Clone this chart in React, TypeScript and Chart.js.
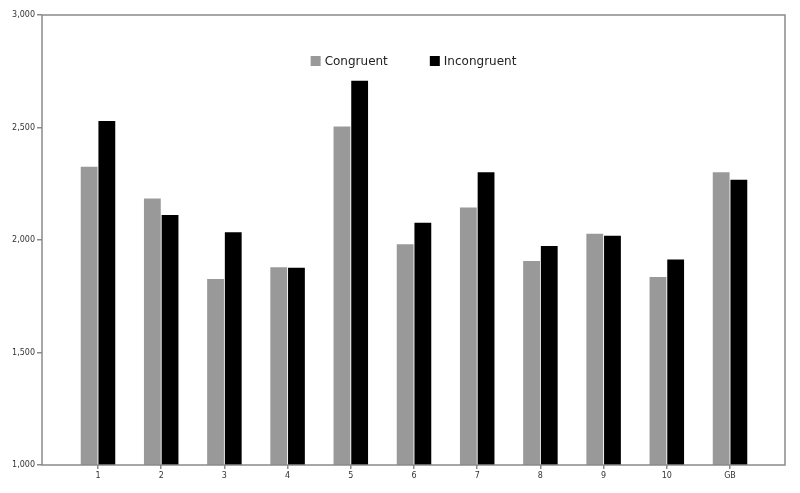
import React, { useEffect, useRef } from "react";
import { Chart, registerables } from "chart.js";

Chart.register(...registerables);

const categories = ["1", "2", "3", "4", "5", "6", "7", "8", "9", "10", "GB"];
const congruent = [2326, 2185, 1827, 1879, 2504, 1981, 2145, 1907, 2028, 1836, 2301];
const incongruent = [2529, 2111, 2034, 1877, 2708, 2077, 2301, 1973, 2019, 1913, 2268];
const yTicks = [1000, 1500, 2000, 2500, 3000];

const GREY = "#999999";
const BLACK = "#000000";
const AXIS = "#8a8a8a";

const boxAndLegend = {
  id: "boxAndLegend",
  afterDraw(chart: any) {
    const { ctx, chartArea } = chart;
    ctx.save();
    ctx.strokeStyle = AXIS;
    ctx.lineWidth = 1.5;
    ctx.strokeRect(chartArea.left, chartArea.top, chartArea.right - chartArea.left, chartArea.bottom - chartArea.top);

    ctx.font = "12px 'DejaVu Sans', sans-serif";
    ctx.textBaseline = "middle";
    const items = chart.data.datasets.map((d: any) => ({ label: d.label, color: d.backgroundColor }));
    const box = 10;
    const gapBoxText = 4;
    const gapItems = 42;
    const widths = items.map((it: any) => box + gapBoxText + ctx.measureText(it.label).width);
    const total = widths.reduce((a: number, b: number) => a + b, 0) + gapItems * (items.length - 1);
    let x = (chartArea.left + chartArea.right) / 2 - total / 2;
    const y = 61;
    items.forEach((it: any, i: number) => {
      ctx.fillStyle = it.color;
      ctx.fillRect(x, y - box / 2, box, box);
      ctx.fillStyle = "#222";
      ctx.textAlign = "left";
      ctx.fillText(it.label, x + box + gapBoxText, y + 0.5);
      x += widths[i] + gapItems;
    });
    ctx.restore();
  },
};

export default function App() {
  const ref = useRef<HTMLCanvasElement>(null);
  useEffect(() => {
    document.body.style.margin = "0";
    const chart = new Chart(ref.current!, {
      type: "bar",
      data: {
        datasets: [
          {
            label: "Congruent",
            data: congruent.map((v, i) => ({ x: i + 1, y: v })),
            backgroundColor: GREY,
            borderWidth: 0,
          },
          {
            label: "Incongruent",
            data: incongruent.map((v, i) => ({ x: i + 1, y: v })),
            backgroundColor: BLACK,
            borderWidth: 0,
          },
        ],
      },
      options: {
        animation: false,
        responsive: false,
        maintainAspectRatio: false,
        layout: { padding: { left: 0, top: 15, right: 15, bottom: 0 } },
        datasets: { bar: { categoryPercentage: 0.56, barPercentage: 0.95 } },
        plugins: { legend: { display: false }, tooltip: { enabled: false } },
        scales: {
          x: {
            type: "linear",
            offset: false,
            min: 0.114,
            max: 11.87,
            afterBuildTicks: (s: any) => {
              s.ticks = categories.map((_, i) => ({ value: i + 1 }));
            },
            afterFit: (s: any) => {
              s.height = 28;
            },
            ticks: {
              autoSkip: false,
              maxRotation: 0,
              padding: 2,
              color: "#333",
              font: { family: "'DejaVu Sans', sans-serif", size: 8 },
              callback: (v: any) => categories[Math.round(v) - 1] ?? "",
            },
            grid: { offset: false, drawOnChartArea: false, tickLength: 4, color: AXIS, lineWidth: 1.5 },
            border: { display: false },
          },
          y: {
            min: 1000,
            max: 3000,
            afterBuildTicks: (s: any) => {
              s.ticks = yTicks.map((v) => ({ value: v }));
            },
            afterFit: (s: any) => {
              s.width = 42;
            },
            ticks: {
              padding: 2,
              color: "#333",
              font: { family: "'DejaVu Sans', sans-serif", size: 8 },
              callback: (v: any) => Number(v).toLocaleString("en-US"),
            },
            grid: { drawOnChartArea: false, tickLength: 5, color: AXIS, lineWidth: 1.5 },
            border: { display: false },
          },
        },
      },
      plugins: [boxAndLegend],
    });
    return () => chart.destroy();
  }, []);
  return (
    <div style={{ width: 800, height: 493, background: "#fff" }}>
      <canvas ref={ref} width={800} height={493} style={{ width: 800, height: 493, display: "block" }} />
    </div>
  );
}
